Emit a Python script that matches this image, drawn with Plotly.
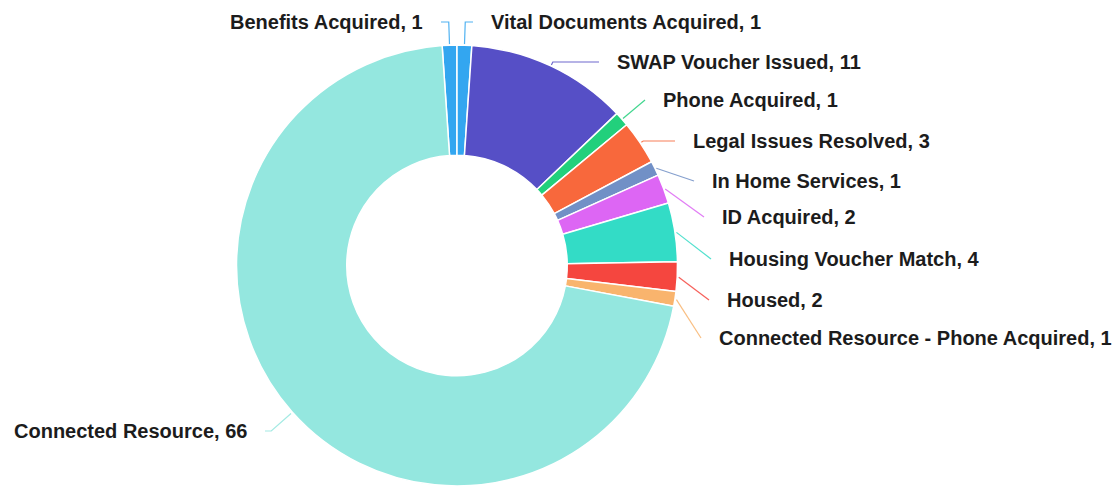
import math
import plotly.graph_objects as go

# ---------------- data ----------------
labels = [
    "Benefits Acquired",
    "Vital Documents Acquired",
    "SWAP Voucher Issued",
    "Phone Acquired",
    "Legal Issues Resolved",
    "In Home Services",
    "ID Acquired",
    "Housing Voucher Match",
    "Housed",
    "Connected Resource - Phone Acquired",
    "Connected Resource",
]
values = [1, 1, 11, 1, 3, 1, 2, 4, 2, 1, 66]

# ---------------- style / layout ----------------
colors = [
    "#33a6f0", "#33a6f0", "#564fc6", "#22d07c", "#f8683c", "#7190c6",
    "#dd66f4", "#33dcc6", "#f5463f", "#f9b46d", "#94e7df",
]
W, H = 1117, 486
CX, CY, R = 457, 266, 221          # donut centre / outer radius (px)
HOLE = 0.5
# label anchor positions in px (x is the text edge nearest the donut)
label_x = [423, 491, 617, 663, 693, 712, 722, 729, 727, 719, 247]
label_y = [22, 22, 62, 100, 141, 181, 217, 259, 300, 338, 431]
label_side = [-1, 1, 1, 1, 1, 1, 1, 1, 1, 1, -1]
GAP = 18
FONT = dict(family="Liberation Sans, Arial, sans-serif", size=20, color="#1c1c1c", weight=700)

total = sum(values)
rotation = -360.0 * values[0] / total  # boundary of first two slices at 12 o'clock

fig = go.Figure()
fig.add_trace(go.Pie(
    labels=labels, values=values, sort=False, direction="clockwise",
    rotation=rotation, hole=HOLE, textinfo="none", hoverinfo="label+value",
    marker=dict(colors=colors, line=dict(color="white", width=1.5)),
    domain=dict(x=[(CX - R) / W, (CX + R) / W], y=[max(0, 1 - (CY + R) / H), 1 - (CY - R) / H]),
    showlegend=False,
))

# leader lines computed from slice angles
cum = 0
for i, v in enumerate(values):
    mid = math.radians(rotation + (cum + v / 2) * 360.0 / total)
    cum += v
    dx, dy = math.sin(mid), -math.cos(mid)
    p0 = (CX + (R + 1) * dx, CY + (R + 1) * dy)
    ly = label_y[i]
    side = label_side[i]
    p2 = (label_x[i] - side * GAP, ly)
    p1 = p0
    if abs(dy) > 1e-6:
        t = (ly - p0[1]) / dy
        if 0 < t < 60:
            p1 = (p0[0] + t * dx, ly)
    if side > 0:
        p1 = (min(p1[0], p2[0]), p1[1])
    else:
        p1 = (max(p1[0], p2[0]), p1[1])
    fig.add_trace(go.Scatter(
        x=[p0[0], p1[0], p2[0]], y=[p0[1], p1[1], p2[1]], mode="lines",
        line=dict(color=colors[i], width=1.2), opacity=0.85,
        hoverinfo="skip", showlegend=False,
    ))
    fig.add_annotation(
        x=label_x[i], y=ly, xref="x", yref="y", showarrow=False,
        text=f"{labels[i]}, {v}", font=FONT,
        xanchor="left" if side > 0 else "right", yanchor="middle",
        borderpad=0, borderwidth=0,
    )

fig.update_layout(
    width=W, height=H, margin=dict(l=0, r=0, t=0, b=0),
    paper_bgcolor="white", plot_bgcolor="rgba(0,0,0,0)",
    xaxis=dict(range=[0, W], visible=False, fixedrange=True),
    yaxis=dict(range=[H, 0], visible=False, fixedrange=True),
    showlegend=False,
)
fig.write_html(
    "out.html",
    config={"displayModeBar": False},
    post_script="document.body.style.margin='0';document.body.style.overflow='hidden';",
)
